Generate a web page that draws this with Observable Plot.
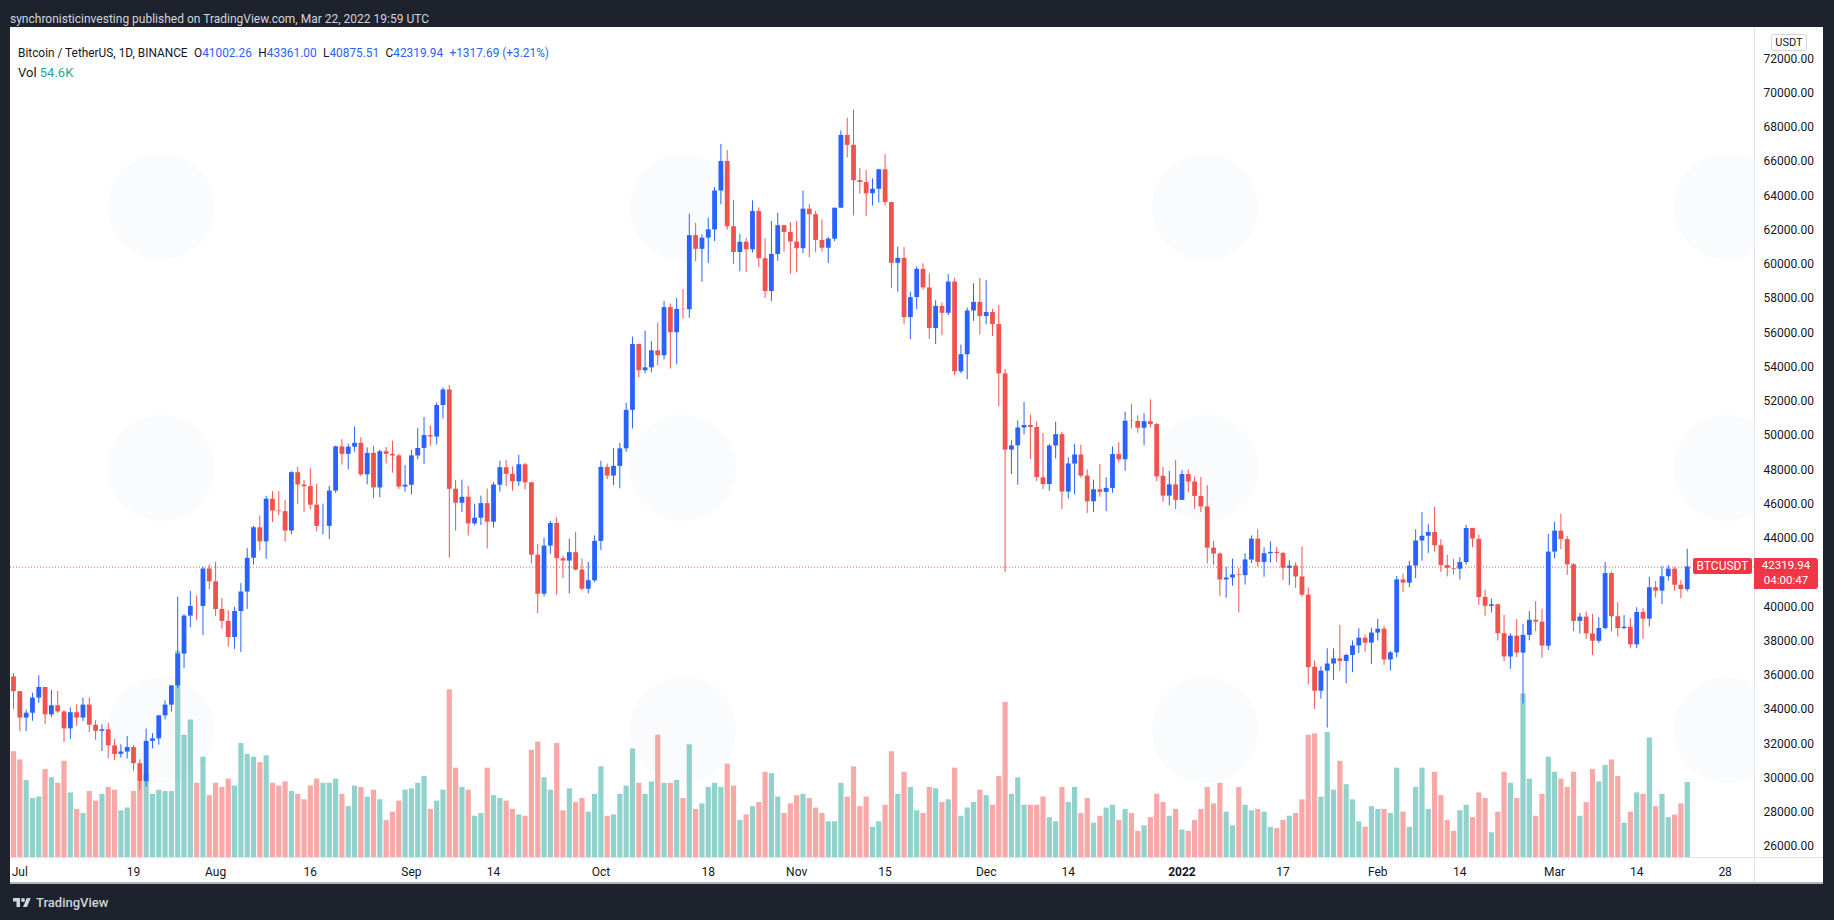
<!DOCTYPE html>
<html>
<head>
<meta charset="utf-8">
<script src="https://cdn.jsdelivr.net/npm/d3@7"></script>
<script src="https://cdn.jsdelivr.net/npm/@observablehq/plot@0.6"></script>
<style>
  html, body { margin: 0; padding: 0; background: #1e222d; }
  body { width: 1834px; height: 920px; overflow: hidden; position: relative; font-family: Roboto, "Liberation Sans", sans-serif; }
  #hdr { position: absolute; left: 10px; top: 11px; color: #d1d4dc; font-size: 13px; white-space: nowrap; transform-origin: 0 50%; line-height: 16px; }
  #panel { position: absolute; left: 10px; top: 27px; width: 1813px; height: 855px; background: #fff; overflow: hidden; border-bottom: 2px solid #b2b5be; }
  #wmwrap { position: absolute; left: 0; top: 0; width: 1744px; height: 830px; overflow: hidden; }
  .wm { position: absolute; width: 106px; height: 106px; border-radius: 50%; background: #fafbfd; }
  #panel svg { position: absolute; left: 0; top: 0; }
  #vline { position: absolute; left: 1744px; top: 0; width: 1px; height: 857px; background: #e0e3eb; }
  #hline { position: absolute; left: 0; top: 830px; width: 1813px; height: 1px; background: #e0e3eb; }
  #legend { position: absolute; left: 8px; top: 16px; font-size: 13px; color: #131722; white-space: nowrap; line-height: 20px; }
  #legend .l1 { transform-origin: 0 50%; display: inline-block; }
  #legend .v { color: #2962ff; }
  #legend .g { margin-left: 7px; }
  #legend .teal { color: #26a69a; }
  #usdt { position: absolute; left: 1761px; top: 7px; width: 34px; height: 15px; border: 1px solid #d1d4dc; border-radius: 3px; font-size: 11px; color: #131722; text-align: center; line-height: 15px; background: #fff; }
  #plabel { position: absolute; left: 1744px; width: 64px; height: 31px; background: #f23645; color: #fff; border-radius: 0 3px 3px 0; font-size: 11.5px; text-align: center; line-height: 15px; }
  #slabel { position: absolute; left: 1683px; width: 59px; height: 16px; background: #f23645; color: #fff; border-radius: 2px; font-size: 12px; text-align: center; line-height: 16px; }
  #footer { position: absolute; left: 12px; top: 895px; color: #d1d4dc; font-size: 13px; font-weight: 500; display: flex; align-items: center; gap: 4px; }
</style>
</head>
<body>
<div id="hdr">synchronisticinvesting published on TradingView.com, Mar 22, 2022 19:59 UTC</div>
<div id="panel">
  <div id="wmwrap"></div>
  <div id="vline"></div>
  <div id="hline"></div>
</div>
<div id="footer">
  <svg width="20" height="14" viewBox="0 0 36 28"><path d="M14 22H7V11H0V4h14v18zM28 22h-8l7.5-18h8L28 22z" fill="#d1d4dc"/><circle cx="20" cy="8" r="4" fill="#d1d4dc"/></svg>
  <span>TradingView</span>
</div>
<script>
// ---- Data: BTC/USDT daily candles (Binance), 2021-06-30 .. 2022-03-22 ----
const startDate = "2021-06-30";

const open = [35908,35045,33502,33786,34669,35288,33690,34220,33863,32875,33815,33502,34259,33086,32729,32820,31874,31384,31520,31778,30839,29790,32144,32287,33634,34261,35381,37237,39456,40019,40018,42206,
41461,39850,39146,38208,39723,40862,42836,44614,43792,46280,45596,45554,44428,47834,47110,47015,45937,44696,44700,46760,49339,48906,49322,49546,47707,48960,46942,49058,48903,48811,46991,
47100,48810,49246,49998,49917,51756,52666,46868,46048,46396,44843,45174,46026,44942,47103,48121,47737,47299,48292,47242,43016,40734,43546,44865,42810,42670,43160,42147,41025,41519,
43820,48141,47634,48200,49224,51472,55315,53785,53955,54949,54660,57471,56006,57370,57347,61672,60876,61528,62005,64281,66002,62193,60689,61286,60852,63079,60329,58413,60575,62254,61860,
61300,60911,63220,62897,61396,60941,61470,63274,67525,66947,64883,64774,64122,64380,65520,63606,60059,60345,56891,58058,59707,58617,56247,57541,57139,58961,53723,54721,57274,57777,
56951,57184,56485,53602,49153,49397,50441,50589,50471,47535,47140,49389,50054,46702,48336,48864,47632,46133,46835,46682,46914,48887,48588,50838,50820,50429,50809,50641,47623,46465,47120,
46217,47722,47286,46446,45833,43425,43083,41566,41679,41864,41822,42735,43950,42592,43099,43177,43113,42250,42375,41744,40681,36471,35071,36244,36660,36958,36810,37160,37716,38166,37881,
38466,38694,36896,37311,41571,41382,42380,43840,44118,44339,43565,42408,42236,42197,42586,44578,43937,40552,40030,40118,38431,37068,38286,37296,38328,39214,39105,37699,
43194,44422,43924,42452,39148,39397,38420,37988,38730,41941,39422,38730,38807,37778,39672,39280,41114,40917,41757,42201,41262,41002.26];

const high = [36100,35057,33977,34945,35967,35293,35118,35059,33929,34100,34262,34666,34679,33340,33114,33185,32249,31939,32435,31899,31063,32859,32595,33650,34500,35398,40550,39542,40900,40640,42316,42448,
42599,40480,39780,39969,41350,43392,44700,45310,46454,46718,46743,46218,47886,48144,47372,48053,47160,46000,47033,49382,49757,49500,50500,49875,49277,49368,49150,49300,49666,48909,48246,
49125,50401,51054,50558,51900,52780,52920,47381,47400,47033,45987,46460,46876,47250,48500,48557,48170,48843,48372,47243,43639,44000,44978,45200,42966,43950,44350,42787,42590,44141,
48495,48336,49228,49536,51886,55750,55332,56100,55489,56561,57839,57680,58000,58531,62933,62378,61718,62695,64486,67000,66639,63732,61747,61500,63710,63293,61496,62499,62980,62274,62437,
62500,64270,63500,63086,62595,61560,63286,67789,68524,69000,65600,65473,64990,65550,66401,63617,61000,60977,58372,59846,60029,59444,57875,57735,59398,59176,55281,57445,58865,59175,
59053,57375,57600,53859,49699,50857,51936,51200,50797,50125,49485,50777,50189,48700,49500,49436,47995,47392,48300,47537,49328,49576,51375,51810,51156,51280,52088,50704,48139,47900,48548,
47954,47990,47570,47557,47070,43816,43146,42300,42786,42248,43100,44136,44500,43448,43800,43479,43175,42691,42574,43505,41100,36835,36499,37550,37545,38919,37234,38000,38720,38359,38744,
39265,38855,37387,41772,41913,42656,44500,45492,44800,45821,43920,43000,42760,42876,44751,44578,44200,40960,40444,40163,39494,38429,39249,38968,39726,40300,39855,44225,
44950,45400,44103,42527,39613,39693,39547,39362,42594,42039,40236,39486,39310,39947,39887,41718,41478,42325,42400,42296,41544,43361.00];

const low = [34017,32711,32699,33316,34357,33125,33532,33777,32078,32261,33004,33306,32658,32202,31550,31133,31020,31179,31108,30408,29278,29482,31708,31925,33401,33851,35205,36383,38772,39200,38313,41000,
39422,38690,37642,37508,37332,39853,42446,43261,42779,44925,45341,43771,44218,45971,45500,45660,44376,44203,43927,46622,48273,48000,49030,47600,47123,46315,46371,48346,47800,46853,46700,
46537,48584,48316,49370,49450,50969,42843,44412,45513,44132,44722,44742,43370,44594,46695,47021,46750,47033,46829,42500,39600,40565,43069,40675,41646,40750,42098,40931,40753,41410,
43283,47430,47088,46891,49022,50382,53357,53617,53661,54080,54415,53879,54138,56818,56850,60150,58963,60050,61322,63481,62000,60000,59562,59510,60650,59817,58000,57820,60174,60710,59405,
59500,60625,60382,60677,60721,60050,61322,63273,66222,62822,64100,62788,63400,63576,63400,58574,58373,56474,55600,57353,58486,55610,55317,55837,57000,53500,53610,53256,56666,55875,
56458,55777,51680,42000,47727,47100,50039,48600,47320,46852,46751,48638,45672,46290,46547,47511,45456,45500,46406,45558,46630,48421,47920,50384,50142,49412,50449,47313,46096,45900,45678,
46208,46654,45696,45500,42500,42430,40610,40501,41200,39650,41268,42528,42311,41725,42555,42577,41540,41250,41077,40553,35440,34008,34601,32917,35705,36234,35507,36155,37268,37351,36632,
38000,36586,36250,37026,40843,41116,41645,42666,43117,43188,42000,41748,41870,41570,42428,43456,40073,39450,39639,38000,36800,36350,37036,34322,38014,38556,37000,37450,
42809,43335,41832,38550,38407,38088,37155,37867,38656,38539,38223,38660,37578,37555,38098,38828,40500,40135,41499,40911,40467,40875.51];

const close = [35045,33504,33786,34669,35287,33690,34220,33862,32875,33815,33502,34259,33086,32729,32820,31880,31383,31520,31778,30839,29790,32144,32287,33634,34259,35381,37237,39457,40019,40016,42206,41461,
39845,39147,38207,39723,40862,42836,44614,43792,46284,45595,45554,44428,47833,47110,47015,45936,44696,44705,46760,49339,48905,49321,49546,47706,48960,46942,49058,48903,48811,46991,47100,
48811,49246,49999,49915,51756,52663,46863,46048,46395,44842,45173,46026,44940,47111,48122,47737,47299,48292,47241,43015,40734,43543,44865,42810,42670,43160,42147,41026,41524,43824,
48141,47634,48200,49224,51471,55315,53785,53951,54949,54659,57471,56006,57367,57347,61672,60875,61528,62010,64280,66001,62193,60688,61286,60852,63078,60329,58413,60575,62254,61859,61300,
60911,63219,62896,61395,60937,61470,63273,67525,66947,64882,64774,64122,64380,65519,63607,60058,60345,56891,58053,59707,58623,56247,57541,57139,58960,53727,54721,57274,57776,56950,
57184,56480,53602,49152,49396,50441,50589,50471,47546,47140,49389,50053,46702,48343,48864,47632,46131,46834,46681,46914,48889,48588,50838,50821,50429,50809,50640,47588,46464,47120,46216,
47722,47286,46446,45833,43425,43082,41566,41679,41864,41822,42736,43950,42592,43099,43177,43113,42250,42375,41744,40681,36445,35071,36244,36660,36958,36810,37160,37716,38166,37881,38466,
38694,36896,37311,41574,41382,42380,43840,44118,44338,43565,42407,42244,42197,42586,44575,43961,40538,40030,40122,38431,37076,38287,37296,38332,39214,39105,37709,43193,
44421,43925,42452,39148,39398,38420,37988,38730,41941,39422,38729,38807,37777,39671,39280,41114,40917,41757,42201,41262,41002,42319.94];

// volume in thousands of BTC
const volume = [77,71,56,43,44,64,58,54,70,47,35,32,48,41,46,51,49,34,36,48,55,60,46,49,48,48,150,89,100,54,73,45,
54,51,57,52,83,75,73,69,74,54,52,55,48,46,42,52,57,54,54,57,46,37,52,51,44,49,42,27,33,41,49,
50,54,59,35,41,49,122,65,51,49,30,32,65,45,43,41,35,31,30,78,84,58,49,83,34,50,40,43,33,46,
66,30,31,46,52,79,54,46,55,89,54,54,56,43,82,35,39,51,54,51,68,52,27,31,37,40,62,61,44,32,39,
45,46,43,36,32,26,26,54,44,66,37,44,22,26,38,77,46,62,51,34,32,51,50,40,42,65,30,36,40,49,
45,38,59,113,46,58,38,38,38,44,29,26,51,40,51,32,43,25,30,36,38,27,35,32,19,23,29,46,40,30,35,
20,19,27,35,51,39,54,33,23,51,38,34,35,33,22,21,27,30,32,42,89,90,44,91,49,70,53,42,26,22,37,
35,35,32,65,33,22,51,65,35,62,45,27,19,34,38,29,47,43,18,33,62,54,43,119,57,30,46,73,
62,57,51,62,30,40,64,55,67,71,59,25,33,47,46,87,37,46,29,31,39,54.6];

// 42000.00 is hidden behind the last-price label in the reference
const priceTicks = [26000,28000,30000,32000,34000,36000,38000,40000,44000,46000,48000,50000,52000,54000,56000,58000,60000,62000,64000,66000,68000,70000,72000];
const timeTickDates = ["2021-07-01","2021-07-19","2021-08-01","2021-08-16","2021-09-01","2021-09-14","2021-10-01","2021-10-18","2021-11-01","2021-11-15","2021-12-01","2021-12-14","2022-01-01","2022-01-17","2022-02-01","2022-02-14","2022-03-01","2022-03-14","2022-03-28"];
const timeTickLabels = ["Jul","19","Aug","16","Sep","14","Oct","18","Nov","15","Dec","14","2022","17","Feb","14","Mar","14","28"];

const symbolText = "Bitcoin / TetherUS, 1D, BINANCE";
const lastClose = 42319.94;
const change = "+1317.69 (+3.21%)";
const lastVolume = "54.6K";
const countdown = "04:00:47";

// ---- Build rows ----
const DAY = 864e5;
const t0 = Date.parse(startDate + "T00:00:00Z");
const candles = open.map((o, i) => ({
  date: new Date(t0 + i * DAY), o, h: high[i], l: low[i], c: close[i], v: volume[i], up: close[i] >= o
}));
const UP = "#2962ff", DOWN = "#ef5350";
const VUP = "#26a69a", VDOWN = "#ef5350";

const W = 1813, H = 857;
const xDomain = [new Date(t0 - 0.475 * DAY), new Date(t0 + 275.65 * DAY)];
const common = {
  width: W, height: H, marginTop: 0, marginRight: 69, marginBottom: 27, marginLeft: 0,
  style: { background: "transparent", fontFamily: "Roboto, 'Liberation Sans', sans-serif", fontSize: "12px", color: "#131722", overflow: "visible" }
};

// faint watermark decorations
const wm = document.getElementById("wmwrap");
for (const cx of [151, 673, 1195, 1717]) for (const cy of [180, 441, 703]) {
  const d = document.createElement("div"); d.className = "wm";
  d.style.left = (cx - 53) + "px"; d.style.top = (cy - 53) + "px"; wm.appendChild(d);
}

// volume pane (behind)
const volPlot = Plot.plot({
  ...common,
  x: { type: "utc", domain: xDomain, axis: null },
  y: { domain: [0, 604], axis: null },
  color: { type: "identity" },
  marks: [
    Plot.ruleX(candles, { x: "date", y1: 0, y2: "v", stroke: d => d.up ? VUP : VDOWN, strokeOpacity: 0.5, strokeWidth: 5.2 })
  ]
});

const labelOf = new Map(timeTickDates.map((d, i) => [Date.parse(d + "T00:00:00Z"), timeTickLabels[i]]));
const normalTicks = timeTickDates.filter((d, i) => timeTickLabels[i] !== "2022").map(d => new Date(d + "T00:00:00Z"));
const boldTicks = timeTickDates.filter((d, i) => timeTickLabels[i] === "2022").map(d => new Date(d + "T00:00:00Z"));

const pricePlot = Plot.plot({
  ...common,
  x: { type: "utc", domain: xDomain },
  y: { domain: [25361, 73828] },
  color: { type: "identity" },
  marks: [
    Plot.ruleY([lastClose], { stroke: "#ef5350", strokeDasharray: "1,2", strokeWidth: 1 }),
    Plot.ruleX(candles, { x: "date", y1: "l", y2: "h", stroke: d => d.up ? UP : DOWN, strokeWidth: 1 }),
    Plot.ruleX(candles, { x: "date", y1: "o", y2: "c", stroke: d => d.up ? UP : DOWN, strokeWidth: 4.8 }),
    Plot.axisY({ anchor: "right", ticks: priceTicks, tickFormat: d => d.toFixed(2), tickSize: 0, tickPadding: 9, fontSize: 12, fill: "#131722", label: null }),
    Plot.axisX({ ticks: normalTicks, tickFormat: d => labelOf.get(+d), tickSize: 0, tickPadding: 10, fontSize: 12, fill: "#131722", label: null }),
    Plot.axisX({ ticks: boldTicks, tickFormat: d => labelOf.get(+d), tickSize: 0, tickPadding: 10, fontSize: 12, fontWeight: "bold", fill: "#131722", label: null })
  ]
});

const panel = document.getElementById("panel");
panel.appendChild(volPlot);
panel.appendChild(pricePlot);

// legend
const legend = document.createElement("div");
legend.id = "legend";
legend.innerHTML =
  `<span class="l1">${symbolText}<span class="g">O<span class="v">${open[open.length-1].toFixed(2)}</span></span>` +
  `<span class="g">H<span class="v">${high[high.length-1].toFixed(2)}</span></span>` +
  `<span class="g">L<span class="v">${low[low.length-1].toFixed(2)}</span></span>` +
  `<span class="g">C<span class="v">${close[close.length-1].toFixed(2)}</span></span>` +
  `<span class="g v">${change}</span></span><br>` +
  `<span>Vol <span class="teal">${lastVolume}</span></span>`;
panel.appendChild(legend);

const usdt = document.createElement("div"); usdt.id = "usdt"; usdt.textContent = "USDT"; panel.appendChild(usdt);

const yc = pricePlot.scale("y").apply(lastClose);
const pl = document.createElement("div"); pl.id = "plabel";
pl.style.top = (yc - 8.5) + "px";
pl.innerHTML = `<div>${lastClose.toFixed(2)}</div><div>${countdown}</div>`;
panel.appendChild(pl);
const sl = document.createElement("div"); sl.id = "slabel";
sl.style.top = (yc - 8.5) + "px"; sl.textContent = "BTCUSDT";
panel.appendChild(sl);

function fitWidth(el, w) {
  el.style.transform = "none";
  const r = el.getBoundingClientRect().width;
  if (r > 0) el.style.transform = `scaleX(${w / r})`;
}
function fitAll() {
  fitWidth(document.getElementById("hdr"), 419);
  fitWidth(legend.querySelector(".l1"), 531);
}
fitAll();
if (document.fonts && document.fonts.ready) document.fonts.ready.then(fitAll);
</script>
</body>
</html>
